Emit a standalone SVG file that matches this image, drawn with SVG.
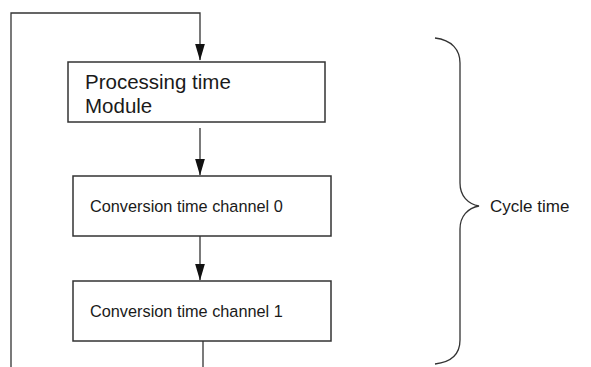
<svg xmlns="http://www.w3.org/2000/svg" width="591" height="367" viewBox="0 0 591 367">
<style>
.box{fill:#fff;stroke:#333;stroke-width:1.5}
.ln{fill:none;stroke:#333;stroke-width:1.3}
.t{font-family:"Liberation Sans",Arial,sans-serif;fill:#1a1a1a}
</style>
<defs>
<marker id="ah" markerUnits="userSpaceOnUse" markerWidth="17" markerHeight="10" viewBox="0 0 17 10" refX="16.5" refY="5" orient="auto">
<path d="M0,0 L17,5 L0,10 Z" fill="#111"/>
</marker>
</defs>
<g id="connectors">
<path class="ln" d="M203,367 L203,341"/>
<path class="ln" d="M11,367 L11,13 L200,13 L200,60" marker-end="url(#ah)"/>
<path class="ln" d="M200,128 L200,175" marker-end="url(#ah)"/>
<path class="ln" d="M200,236 L200,280" marker-end="url(#ah)"/>
</g>
<g id="n1">
<rect class="box" x="68" y="62" width="257" height="60"/>
<text class="t" x="85" y="88.5" font-size="20.5">Processing time</text>
<text class="t" x="85" y="113" font-size="20.5">Module</text>
</g>
<g id="n2">
<rect class="box" x="73" y="176" width="258" height="60"/>
<text class="t" x="90" y="212" font-size="16.3">Conversion time channel 0</text>
</g>
<g id="n3">
<rect class="box" x="73" y="281" width="258" height="60"/>
<text class="t" x="90" y="317" font-size="16.3">Conversion time channel 1</text>
</g>
<g id="brace">
<path class="ln" d="M435,38 C452,40 460,50 460,63 L460,183 C460,196 468,204 479,206 C468,208 460,216 460,229 L460,340 C460,353 452,362 435,364"/>
<text class="t" x="490" y="212" font-size="17">Cycle time</text>
</g>
</svg>
